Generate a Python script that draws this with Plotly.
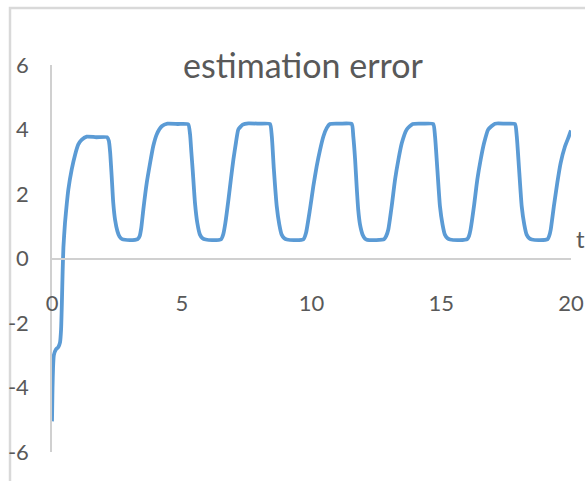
import plotly.graph_objects as go

# time samples and estimation error values
t_vals = [0.00, 0.01, 0.02, 0.04, 0.07, 0.15, 0.24, 0.31, 0.35, 0.38, 0.41, 0.44, 0.50, 0.57, 0.63,
          0.76, 0.89, 1.01, 1.14, 1.34, 1.70, 2.12, 2.19, 2.24, 2.30, 2.36, 2.43, 2.52, 2.60, 2.70,
          3.00, 3.30, 3.38, 3.44, 3.52, 3.65, 3.78, 3.90, 4.03, 4.23, 4.45, 4.85, 5.25, 5.32, 5.37,
          5.42, 5.51, 5.60, 5.70, 5.80, 5.92, 6.20, 6.52, 6.60, 6.68, 6.80, 6.90, 6.99, 7.09, 7.18,
          7.35, 7.57, 8.00, 8.40, 8.47, 8.55, 8.66, 8.76, 8.85, 8.95, 9.05, 9.40, 9.69, 9.79, 9.94,
          10.07, 10.20, 10.33, 10.46, 10.59, 10.71, 11.10, 11.55, 11.61, 11.68, 11.74, 11.80, 11.87,
          11.97, 12.06, 12.15, 12.50, 12.80, 12.88, 12.96, 13.09, 13.22, 13.35, 13.48, 13.67, 13.90,
          14.30, 14.69, 14.76, 14.85, 14.95, 15.05, 15.14, 15.24, 15.34, 15.70, 16.00, 16.07, 16.13,
          16.26, 16.39, 16.52, 16.65, 16.81, 17.07, 17.45, 17.84, 17.91, 18.00, 18.10, 18.20, 18.29,
          18.39, 18.49, 18.80, 19.10, 19.16, 19.22, 19.34, 19.47, 19.60, 19.77, 19.92, 20.00]
err_vals = [-5.05, -4.5, -4.0, -3.4, -3.0, -2.82, -2.75, -2.6, -2.2, -1.4, -0.4, 0.35, 1.1, 1.7, 2.14,
            2.76, 3.22, 3.53, 3.68, 3.78, 3.76, 3.76, 3.65, 3.3, 2.55, 1.73, 1.2, 0.85, 0.68, 0.6,
            0.57, 0.6, 0.7, 0.95, 1.52, 2.34, 2.96, 3.48, 3.84, 4.1, 4.18, 4.17, 4.16, 3.85, 3.3,
            2.76, 1.72, 1.1, 0.74, 0.63, 0.59, 0.57, 0.6, 0.75, 1.1, 1.83, 2.5, 3.07, 3.6, 4.0,
            4.15, 4.19, 4.18, 4.17, 3.79, 2.76, 1.62, 1.05, 0.74, 0.63, 0.59, 0.57, 0.6, 0.8, 1.52,
            2.24, 2.86, 3.37, 3.79, 4.05, 4.17, 4.18, 4.17, 3.79, 3.07, 2.24, 1.52, 1.05,
            0.74, 0.62, 0.58, 0.57, 0.6, 0.7, 0.9, 1.62, 2.45, 3.07, 3.58, 4.0, 4.17,
            4.18, 4.17, 3.79, 2.76, 1.62, 1.05, 0.74, 0.63, 0.59, 0.57, 0.6, 0.7, 0.9,
            1.62, 2.45, 3.07, 3.58, 4.0, 4.18, 4.18, 4.17, 3.79, 2.76, 1.62, 1.05, 0.74,
            0.63, 0.59, 0.57, 0.6, 0.7, 0.9, 1.62, 2.34, 2.96, 3.48, 3.79, 3.97]

x_ticks = [0, 5, 10, 15, 20]
y_ticks = [-6, -4, -2, 0, 2, 4, 6]
y_tick_text = ["-6", "-4", "-2", "0", "2", "4", "6"]
title_text = "estimation error"
x_label = "t"

FONT = "Lato, sans-serif"
GREY = "#595959"
AXIS = "#D0D0D0"

fig = go.Figure()
fig.add_trace(go.Scatter(x=t_vals, y=err_vals, mode="lines",
                         line=dict(color="#5B9BD5", width=3.8, shape="spline", smoothing=0.5),
                         showlegend=False, hoverinfo="skip"))

W, H = 585, 481
L, R, T, B = 52, 14, 65, 29
pw = W - L - R
ph = H - T - B

fig.update_layout(
    width=W, height=H,
    margin=dict(l=L, r=R, t=T, b=B, autoexpand=False),
    paper_bgcolor="white", plot_bgcolor="white",
    title=dict(text=title_text, font=dict(family=FONT, size=34, color=GREY),
               xref="paper", x=(303 - L) / pw, xanchor="center",
               yref="container", y=1 - 66 / H, yanchor="middle"),
    xaxis=dict(range=[0, 20], tickvals=x_ticks, anchor="free", position=0.5, automargin=False,
               showline=True, linecolor=AXIS, linewidth=1.5, showgrid=False, zeroline=False,
               ticks="outside", ticklen=25, tickcolor="rgba(0,0,0,0)",
               tickfont=dict(family=FONT, size=22, color=GREY)),
    yaxis=dict(range=[-6, 6], tickvals=y_ticks, ticktext=y_tick_text, automargin=False,
               showline=True, linecolor=AXIS, linewidth=1.5,
               showgrid=False, zeroline=False,
               ticks="outside", ticklen=17, tickcolor="rgba(0,0,0,0)",
               tickfont=dict(family=FONT, size=22, color=GREY)),
    annotations=[dict(text=x_label, xref="paper", yref="paper",
                      x=(574 - L) / pw, y=(H - B - 238) / ph, xanchor="left", yanchor="middle",
                      showarrow=False, font=dict(family=FONT, size=24, color=GREY))],
    shapes=[dict(type="rect", xref="paper", yref="paper",
                 x0=(10 - L) / pw, x1=1.3, y0=-0.3, y1=(H - B - 8) / ph,
                 line=dict(color="#D9D9D9", width=2.5), layer="below")],
)

fig.write_html("out.html", config={"displayModeBar": False},
               post_script="document.body.style.margin='0px';document.body.style.overflow='hidden';")
